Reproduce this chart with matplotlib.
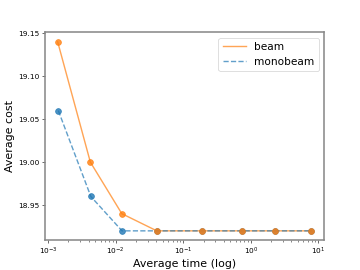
import matplotlib
matplotlib.use('Agg')
import matplotlib.pyplot as plt

times_beam = [0.00139, 0.00423, 0.01236, 0.0407, 0.193, 0.74, 2.28, 7.87]
cost_beam = [19.14, 19.00, 18.94, 18.92, 18.92, 18.92, 18.92, 18.92]
times_mono = [0.00142, 0.00430, 0.01245, 0.0407, 0.193, 0.74, 2.28, 7.87]
cost_mono = [19.06, 18.96, 18.92, 18.92, 18.92, 18.92, 18.92, 18.92]

fig, ax = plt.subplots(figsize=(6.4, 4.8), dpi=56.25)

ax.plot(times_beam, cost_beam, '-', color='C1', alpha=0.7, lw=1.8, label='beam')
ax.plot(times_mono, cost_mono, '--', color='C0', alpha=0.7, lw=1.8, label='monobeam')
ax.scatter(times_mono, cost_mono, color='C0', s=55, alpha=0.8, zorder=3)
ax.scatter(times_beam, cost_beam, color='C1', s=55, alpha=0.8, zorder=3)

ax.set_xscale('log')
ax.set_xlabel('Average time (log)', fontsize=14, labelpad=1.5)
ax.set_ylabel('Average cost', fontsize=14)
ax.tick_params(labelsize=9.5, length=4, width=1, color='#444444')
ax.tick_params(which='minor', length=2.5, width=0.8, color='#444444')
ax.set_yticks([18.95, 19.00, 19.05, 19.10, 19.15])

for s in ax.spines.values():
    s.set_color('#888888')
    s.set_linewidth(2.0)

ax.legend(fontsize=13.5, loc='upper right', handlelength=2.2)

plt.savefig('out.png', dpi=56.25)
